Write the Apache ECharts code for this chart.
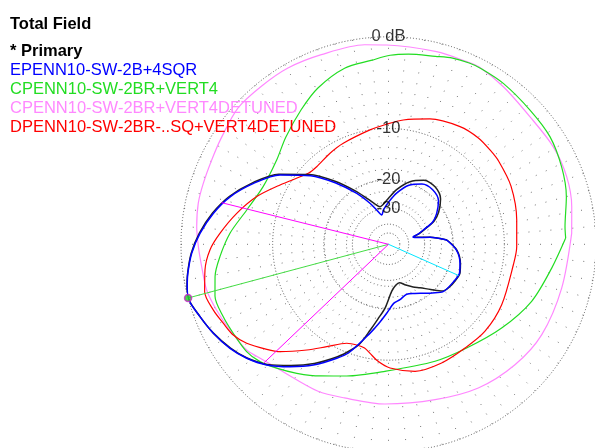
<!DOCTYPE html>
<html><head><meta charset="utf-8">
<script src="https://cdn.jsdelivr.net/npm/echarts@6/dist/echarts.min.js"></script>
<style>html,body{margin:0;padding:0;background:#fff}#c{width:595px;height:448px}</style>
</head><body><div id="c"></div>
<script>
// ---- data: [azimuth angle (deg), gain (dB)] ----
const ringLevels = [0, -10, -20, -30, -40, -50];
const ringLabelLevels = [0, -10, -20, -30];
const ringLabels = ['0 dB', '-10', '-20', '-30'];

const primaryName = '* Primary';
const primary = [[4.2,-21.7],[9.6,-27.2],[13.6,-33.5],[16.5,-35.5],[19,-32],[22.3,-28.8],[27,-24],[32.7,-21.4],[41,-18.9],[51,-17.7],[61,-17.9],[71,-19.6],[81,-22.5],[90,-25.8],[97,-28],[102.7,-28.9],[109,-27.0],[114.3,-24.6],[121.9,-20.5],[130.3,-15.8],[138.6,-11.6],[147.4,-8.0],[155.7,-5.65],[163.3,-3.8],[170,-2.55],[176.7,-1.55],[182.6,-0.85],[188.2,-0.38],[191.9,-0.13],[195,0],[201,-0.47],[206.9,-0.95],[213.3,-1.6],[218.8,-2.3],[224.7,-3.35],[231.2,-4.95],[238.1,-6.7],[245.6,-8.9],[250.3,-10.5],[254,-12.0],[258,-14.8],[262,-17.4],[267,-20.3],[274,-25.5],[280,-27.6],[286,-28.3],[293,-26.5],[300,-24.7],[306,-23.2],[313,-20.8],[319.1,-18.3],[325,-17.6],[331.8,-17.2],[338,-17.0],[345.1,-17.6],[355.2,-19.0]];

const blueName = 'EPENN10-SW-2B+4SQR';
const blue = [[4.2,-21.8],[9.6,-27.4],[13.6,-34],[16.5,-36],[19,-32.5],[22.3,-29.3],[27,-24.5],[32.7,-22.1],[41,-19.6],[51,-18.6],[61,-18.9],[71,-20.6],[81,-23.8],[89,-27.0],[98,-30.5],[103,-33.1],[109,-29.9],[114.3,-26.2],[121.9,-21.3],[130.3,-16.4],[138.6,-11.9],[147.4,-8.2],[155.7,-5.8],[163.3,-3.9],[170,-2.64],[176.7,-1.62],[182.6,-0.89],[188.2,-0.4],[191.9,-0.15],[195,0],[201,-0.47],[206.9,-0.94],[213.3,-1.55],[218.8,-2.26],[224.7,-3.27],[231.2,-4.78],[238.1,-6.48],[245.6,-8.67],[250.3,-10.26],[258.3,-14.2],[263,-16.4],[268.5,-18.9],[275,-21.5],[281.7,-22.3],[290,-23.4],[298,-22.6],[305.4,-21.3],[312,-19.8],[319.1,-18.1],[331.8,-17.35],[338,-17.1],[345.1,-17.7],[355.2,-19.1]];

const greenName = 'CPENN10-SW-2BR+VERT4';
const green = [[2,-2.7],[5.7,-2.69],[15,-2.05],[24,-1.55],[33.7,-1.15],[43.5,-1.06],[54.5,-0.83],[62,-0.75],[66,-0.77],[71,-0.9],[76,-1.18],[84,-1.4],[89.5,-1.6],[95.4,-2.0],[104,-2.3],[114.3,-3.27],[123,-4.42],[133.8,-5.75],[143,-6.75],[155.3,-7.0],[166.4,-6.05],[176,-4.58],[184.2,-3.52],[190.6,-2.78],[196.6,-2.34],[203.7,-2.4],[209.8,-2.54],[217.1,-2.64],[222.4,-3.02],[227.9,-3.73],[234.6,-4.65],[242.5,-5.75],[252.4,-6.98],[268.4,-8.42],[291.7,-8.58],[307,-8.04],[323.5,-6.66],[338.3,-5.11],[351.7,-3.94]];

const violetName = 'CPENN10-SW-2BR+VERT4DETUNED';
const violet = [[3.4,-2.11],[11.6,-1.78],[20.8,-1.46],[30.6,-1.38],[42,-1.47],[53.9,-1.07],[63,-0.7],[66.8,-0.74],[76,-0.76],[90.5,-0.69],[96.8,-0.55],[109.5,-0.53],[119.7,-0.38],[128.8,-0.39],[137.8,-0.37],[147.6,-0.79],[154.5,-0.99],[161.8,-1.07],[167.8,-1.1],[174.8,-1.28],[180.7,-1.5],[186.8,-1.68],[194.1,-1.74],[200.9,-2.05],[208.4,-2.42],[216.7,-2.74],[222.7,-3.37],[229.2,-3.83],[244.4,-4.14],[254,-4.48],[268.7,-4.49],[286.7,-4.23],[302,-3.48],[316.4,-2.96],[329.5,-2.64],[345.8,-2.57]];

const redName = 'DPENN10-SW-2BR-..SQ+VERT4DETUNED';
const red = [[3,-8.24],[10.7,-7.96],[25.4,-7.3],[37,-7.0],[42.9,-6.93],[49.8,-6.85],[58.7,-7.04],[71.7,-7.76],[83.2,-8.67],[91.7,-9.45],[99.2,-10.0],[114.1,-10.78],[122.7,-11.17],[132.8,-11.58],[138.5,-11.35],[151.3,-8.89],[160.1,-6.74],[168.5,-5.02],[176.3,-3.53],[181.8,-2.57],[188,-1.94],[194.5,-1.52],[200.6,-1.78],[205.6,-2.15],[210.3,-2.46],[214.9,-3.13],[220.8,-4.38],[224.7,-5.27],[232.3,-7.56],[238.9,-9.46],[247.1,-11.3],[252.5,-11.6],[257,-11.47],[260.4,-10.8],[264.9,-9.76],[270.7,-8.88],[281.8,-8.06],[294.1,-8.02],[306.4,-8.17],[318,-8.04],[331.9,-8.25],[350.7,-8.49],[358.9,-8.26]];

// markers: [angle, dB]
const maxPoint = [195, 0];
const beamwidthPoints = [[166, -3.2], [223.6, -3.2]];
const rearPoint = [336, -17.1];

// ---- ARRL log-periodic scale ----
const toRho = db => Math.pow(0.89, -db / 2);
const poly = arr => { const d = arr.map(p => [toRho(p[1]), p[0]]); d.push(d[0]); return d; };

const FONT = "'Liberation Sans', Arial, sans-serif";
const CX = 388.5, CY = 244.3, R = 207.5;

const curve = (name, arr, color, width, z) => ({
  name, type: 'line', coordinateSystem: 'polar', polarIndex: 0,
  data: poly(arr), showSymbol: false, smooth: 0.3, silent: true, z,
  lineStyle: { color, width }, itemStyle: { color }
});
const ray = (name, pt, color) => ({
  name, type: 'line', coordinateSystem: 'polar', polarIndex: 0,
  data: [[0, pt[0]], [toRho(pt[1]), pt[0]]], showSymbol: false, silent: true, z: 6,
  lineStyle: { color, width: 1 }
});

const hiddenAxis = { axisLine: { show: false }, axisTick: { show: false }, axisLabel: { show: false }, splitLine: { show: false } };

// polar 0: data; polar 1: spokes; polar 2..: dotted rings
const polars = [{ center: [CX, CY], radius: R }, { center: [CX, CY], radius: [R * toRho(-30), R] }];
const radiusAxes = [
  Object.assign({ polarIndex: 0, type: 'value', min: 0, max: 1 }, hiddenAxis),
  Object.assign({ polarIndex: 1, type: 'value', min: toRho(-30), max: 1 }, hiddenAxis)
];
const angleAxes = [
  Object.assign({ polarIndex: 0, type: 'value', min: 0, max: 360, startAngle: 0, clockwise: false }, hiddenAxis),
  Object.assign({ polarIndex: 1, type: 'value', min: 0, max: 360, interval: 5, startAngle: 0, clockwise: false }, hiddenAxis,
    { splitLine: { show: true, lineStyle: { color: '#777', width: 1, type: [1, 10] } } })
];
ringLevels.forEach((lv, i) => {
  polars.push({ center: [CX, CY], radius: R * toRho(lv) });
  radiusAxes.push(Object.assign({ polarIndex: i + 2, type: 'value', min: 0, max: 1 }, hiddenAxis));
  angleAxes.push(Object.assign({ polarIndex: i + 2, type: 'value', min: 0, max: 360, startAngle: 0, clockwise: false }, hiddenAxis,
    { axisLine: { show: true, lineStyle: { color: '#555', width: 1, type: [1, 2] } } }));
});

const chart = echarts.init(document.getElementById('c'), null, { renderer: 'canvas' });
chart.setOption({
  animation: false,
  backgroundColor: '#fff',
  title: { text: 'Total Field', left: 10, top: 16, padding: 0,
    textStyle: { fontFamily: FONT, fontSize: 16.5, fontWeight: 'bold', color: '#000' } },
  legend: {
    orient: 'vertical', left: 5, top: 42, icon: 'none', itemWidth: 0, itemHeight: 19, itemGap: 0,
    selectedMode: false, padding: 0,
    textStyle: { fontFamily: FONT, fontSize: 16.5, lineHeight: 19 },
    data: [
      { name: primaryName, textStyle: { color: '#000', fontWeight: 'bold' } },
      { name: blueName, textStyle: { color: '#0000ff' } },
      { name: greenName, textStyle: { color: '#22dd22' } },
      { name: violetName, textStyle: { color: '#ff88ff' } },
      { name: redName, textStyle: { color: '#ff0000' } }
    ]
  },
  polar: polars,
  radiusAxis: radiusAxes,
  angleAxis: angleAxes,
  series: [
    curve(violetName, violet, '#ff88ff', 1.2, 2),
    curve(greenName, green, '#22dd22', 1.2, 2),
    curve(redName, red, '#ff0000', 1.2, 2),
    curve(primaryName, primary, '#222', 1.5, 3),
    curve(blueName, blue, '#0000ff', 1.5, 4),
    ray('maxRay', maxPoint, '#44dd44'),
    ray('bw1', beamwidthPoints[0], '#ff00ff'),
    ray('bw2', beamwidthPoints[1], '#ff00ff'),
    ray('rear', rearPoint, '#00e5ff'),
    { name: 'maxMark', type: 'scatter', coordinateSystem: 'polar', polarIndex: 0, z: 7, silent: true,
      data: [[toRho(maxPoint[1]), maxPoint[0]]], symbol: 'circle', symbolSize: 7,
      itemStyle: { color: '#22cc22', borderColor: '#cc22cc', borderWidth: 1.5 } },
    { name: 'ringLabels', type: 'scatter', coordinateSystem: 'polar', polarIndex: 0, z: 8, silent: true,
      symbolSize: 0,
      data: ringLabelLevels.map((lv, i) => ({ name: ringLabels[i], value: [toRho(lv), 90] })),
      label: { show: true, position: 'inside', formatter: p => p.name,
        fontFamily: FONT, fontSize: 16.5, color: '#000' } }
  ]
});
</script></body></html>
